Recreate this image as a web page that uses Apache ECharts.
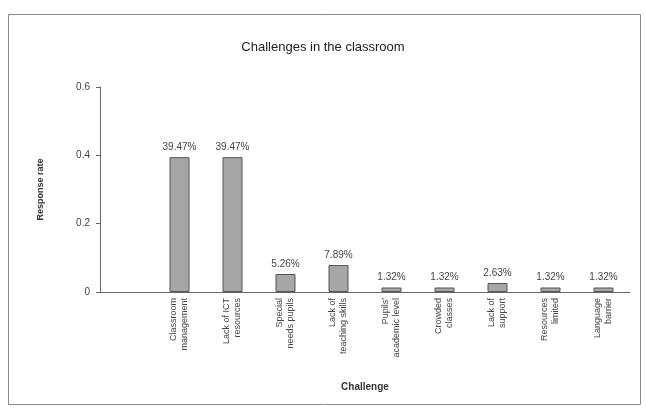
<!DOCTYPE html>
<html><head><meta charset="utf-8">
<script src="https://cdn.jsdelivr.net/npm/echarts@6/dist/echarts.min.js"></script>
<style>html,body{margin:0;padding:0;background:#fff}#c{width:646px;height:415px}</style>
</head><body><div id="c"></div>
<script>
const categories = ["", "Classroom\nmanagement", "Lack of ICT\nresources", "Special\nneeds pupils", "Lack of\nteaching skills", "Pupils'\nacademic level", "Crowded\nclasses", "Lack of\nsupport", "Resources\nlimited", "Language\nbarrier"];
const values = [null, 0.3947, 0.3947, 0.0526, 0.0789, 0.0132, 0.0132, 0.0263, 0.0132, 0.0132];
const labels = ["", "39.47%", "39.47%", "5.26%", "7.89%", "1.32%", "1.32%", "2.63%", "1.32%", "1.32%"];
const yTicks = [0, 0.2, 0.4, 0.6];

const chart = echarts.init(document.getElementById('c'));
chart.setOption({
  animation: false,
  title: { text: "Challenges in the classroom", left: 318, top: 36, textAlign: 'center',
    textStyle: { fontFamily: 'Liberation Sans', fontSize: 13, fontWeight: 'normal', color: '#222' } },
  graphic: [{ type: 'rect', shape: { x: 8.5, y: 14.5, width: 632, height: 390 },
    style: { fill: 'none', stroke: '#888', lineWidth: 1 } }],
  grid: { left: 100, right: 16, top: 87, bottom: 123, containLabel: false },
  xAxis: { type: 'category', data: categories, name: 'Challenge', nameLocation: 'middle', nameGap: 90,
    nameTextStyle: { fontFamily: 'Liberation Sans', fontSize: 10, fontWeight: 'bold', color: '#333' },
    axisLine: { lineStyle: { color: '#666' } }, axisTick: { show: false },
    axisLabel: { rotate: 90, interval: 0, fontFamily: 'Liberation Sans', fontSize: 9, color: '#444', lineHeight: 11, margin: 6 } },
  yAxis: { type: 'value', min: 0, max: 0.6, interval: 0.2, name: 'Response rate', nameLocation: 'middle', nameGap: 55,
    nameTextStyle: { fontFamily: 'Liberation Sans', fontSize: 9, fontWeight: 'bold', color: '#333' },
    splitLine: { show: false }, axisLine: { show: true, lineStyle: { color: '#666' } },
    axisTick: { show: true, length: 4, lineStyle: { color: '#666' } },
    axisLabel: { fontFamily: 'Liberation Sans', fontSize: 10, color: '#444', margin: 10,
      formatter: v => yTicks.includes(Math.round(v*10)/10) ? String(Math.round(v*10)/10) : '' } },
  series: [{ type: 'bar', data: values, barWidth: 20,
    itemStyle: { color: '#a6a6a6', borderColor: '#555', borderWidth: 1 },
    label: { show: true, position: 'top', distance: 5, fontFamily: 'Liberation Sans', fontSize: 10, color: '#444',
      formatter: p => labels[p.dataIndex] } }]
});
</script></body></html>
